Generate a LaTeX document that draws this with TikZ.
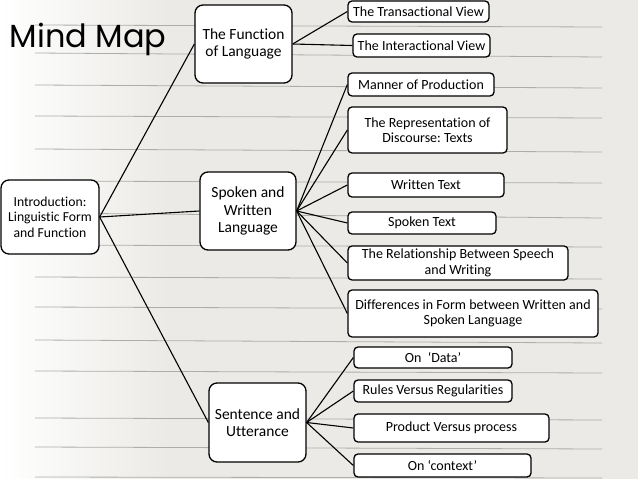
\documentclass[tikz,border=0pt]{standalone}
\usepackage{fontspec}
\setmainfont{Carlito}[Ligatures=NoCommon]
\newfontfamily\titlefont{Poppins}
\definecolor{paper}{HTML}{EBEAE6}
\definecolor{ruling}{HTML}{ADADA9}
\frenchspacing
\begin{document}
\begin{tikzpicture}[x=1pt, y=-1pt,
  every node/.style = {shape=rectangle, draw, fill=white, align=center,
    line width=1.3pt, inner sep=0pt},
  leaf/.style = {rounded corners=4pt, font=\fontsize{14}{15.5}\selectfont},
  hub/.style = {rounded corners=8pt, font=\fontsize{15.5}{17.5}\selectfont},
  branch/.style = {draw, line width=1.1pt}
  ]
  \useasboundingbox (0,0) rectangle (638,479);
  \fill[paper] (0,0) rectangle (638,479);
  \shade[left color=white, right color=paper] (0,0) rectangle (170,479);
  % notebook rules
  \foreach \ya/\yb in {25/27, 53/57, 85/88, 116/118, 149/152, 181/183, 213/218,
      245/247, 277/279, 307/309, 340/343, 371/373, 418/420, 447/449, 477/478}
    \draw[ruling, line width=0.8pt] (35,\ya) -- (602,\yb);

  \node[draw=none, fill=none, anchor=base west,
    font=\titlefont\fontsize{32}{32}\selectfont] (title) at (9,47) {Mind Map};

  \node[hub, minimum width=98pt, minimum height=74pt,
    font=\fontsize{13.7}{15.5}\selectfont] (intro) at (50,217)
    {Introduction:\\Linguistic Form\\and Function};
  \node[hub, minimum width=97pt, minimum height=78pt] (func) at (243.5,44)
    {The Function\\of Language};
  \node[hub, minimum width=96pt, minimum height=78pt] (spoken) at (248,211)
    {Spoken and\\Written\\Language};
  \node[hub, minimum width=97pt, minimum height=79pt] (sentence) at (257.5,422.5)
    {Sentence and\\Utterance};

  % function of language
  \node[leaf, minimum width=141pt, minimum height=21pt] (trans) at (418.5,11.5)
    {The Transactional View};
  \node[leaf, minimum width=137pt, minimum height=23pt] (inter) at (421.5,45.5)
    {The Interactional View};

  % spoken and written
  \node[leaf, minimum width=146pt, minimum height=23pt] (manner) at (421,84.5)
    {Manner of Production};
  \node[leaf, minimum width=159pt, minimum height=46pt] (repr) at (427.5,130)
    {The Representation of\\Discourse: Texts};
  \node[leaf, minimum width=156pt, minimum height=24pt] (wtext) at (426,185)
    {Written Text};
  \node[leaf, minimum width=148pt, minimum height=22pt] (stext) at (422,223)
    {Spoken Text};
  \node[leaf, minimum width=220pt, minimum height=34pt] (relation) at (458,263)
    {The Relationship Between Speech\\and Writing};
  \node[leaf, minimum width=250pt, minimum height=47pt] (diff) at (473,313.5)
    {Differences in Form between Written and\\Spoken Language};

  % sentence and utterance
  \node[leaf, minimum width=158pt, minimum height=21pt] (data) at (433,357.5)
    {On~~‘Data’};
  \node[leaf, minimum width=158pt, minimum height=22pt] (rules) at (433,391)
    {Rules Versus Regularities};
  \node[leaf, minimum width=195pt, minimum height=28pt] (product) at (451.5,428)
    {Product Versus process};
  \node[leaf, minimum width=177pt, minimum height=23pt] (context) at (442.5,465.5)
    {On ‘context’};

  \foreach \kid in {func, spoken, sentence}
    \draw[branch] (intro.east) -- (\kid.west);
  \foreach \kid in {trans, inter}
    \draw[branch] (func.east) -- (\kid.west);
  \foreach \kid in {manner, repr, wtext, stext, relation, diff}
    \draw[branch] (spoken.east) -- (\kid.west);
  \foreach \kid in {data, rules, product, context}
    \draw[branch] (sentence.east) -- (\kid.west);
\end{tikzpicture}
\end{document}
